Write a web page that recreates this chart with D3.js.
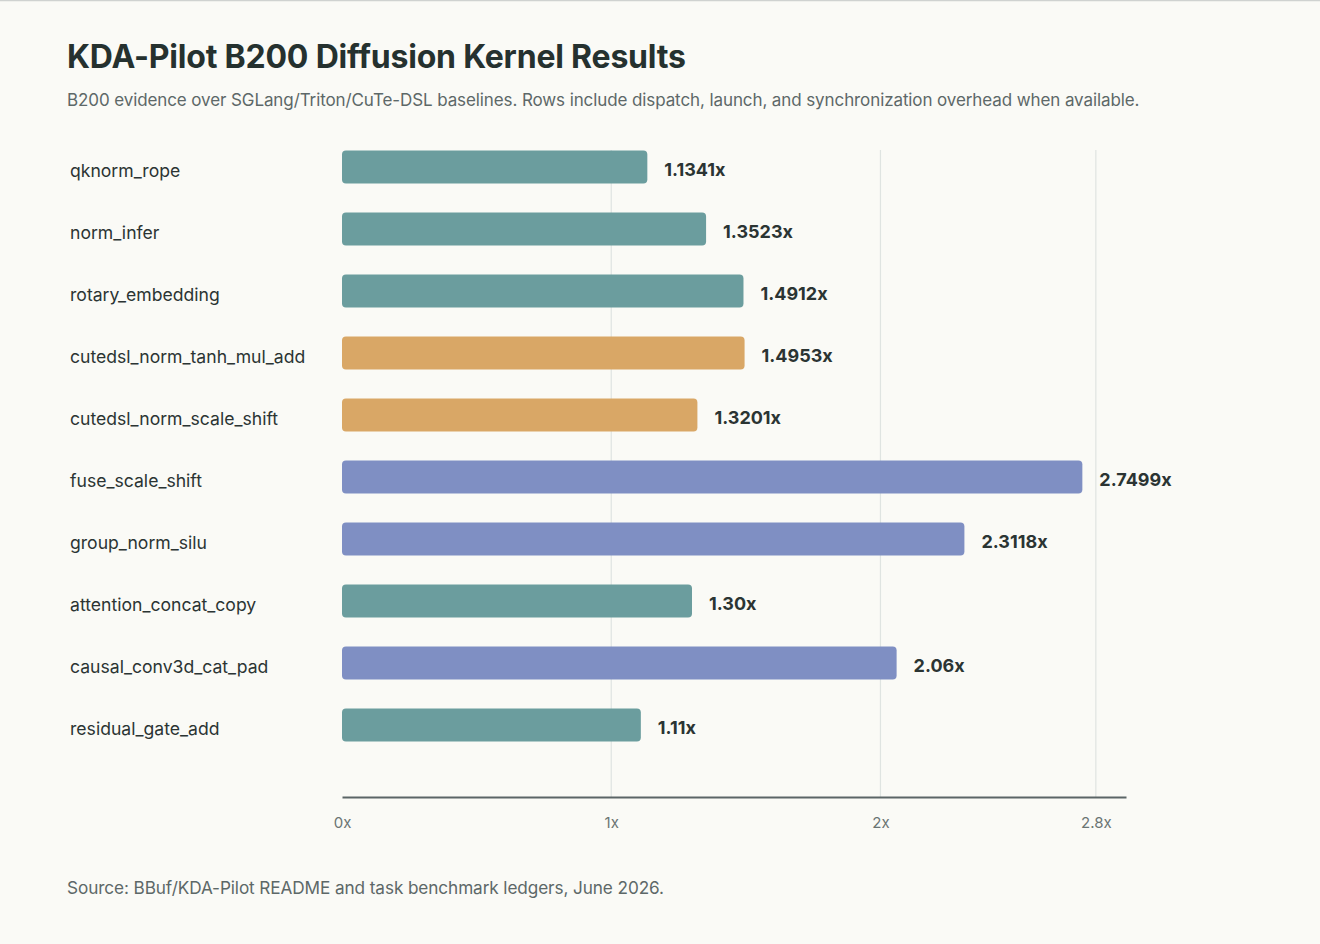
<!DOCTYPE html>
<html><head><meta charset="utf-8">
<script src="https://cdn.jsdelivr.net/npm/d3@7"></script>
<style>
html,body{margin:0;padding:0;background:#fafaf6;}
svg{display:block;}
</style></head>
<body>
<svg id="chart" width="1320" height="944"></svg>
<script>
const categories = ["qknorm_rope","norm_infer","rotary_embedding","cutedsl_norm_tanh_mul_add","cutedsl_norm_scale_shift","fuse_scale_shift","group_norm_silu","attention_concat_copy","causal_conv3d_cat_pad","residual_gate_add"];
const speedups = [1.1341,1.3523,1.4912,1.4953,1.3201,2.7499,2.3118,1.30,2.06,1.11];
const valueLabels = ["1.1341x","1.3523x","1.4912x","1.4953x","1.3201x","2.7499x","2.3118x","1.30x","2.06x","1.11x"];
const groups = ["triton","triton","triton","cutedsl","cutedsl","fused","fused","triton","fused","triton"];
const tickValues = [0,1,2,2.8];
const tickLabels = ["0x","1x","2x","2.8x"];
const title = "KDA-Pilot B200 Diffusion Kernel Results";
const subtitle = "B200 evidence over SGLang/Triton/CuTe-DSL baselines. Rows include dispatch, launch, and synchronization overhead when available.";
const source = "Source: BBuf/KDA-Pilot README and task benchmark ledgers, June 2026.";

const colors = {triton:"#6b9d9e", cutedsl:"#d9a766", fused:"#7f8fc3"};
const font = "Inter, 'Noto Sans', sans-serif";

const svg = d3.select("#chart");
svg.append("rect").attr("width",1320).attr("height",944).attr("fill","#fafaf6");
svg.append("line").attr("x1",0).attr("x2",1320).attr("y1",0.5).attr("y2",0.5).attr("stroke","#cfd2d0").attr("stroke-width",1.5);

svg.append("text").attr("x",67).attr("y",68).text(title)
  .attr("font-family",font).attr("font-weight",700).attr("font-size",32).attr("fill","#25312f").attr("letter-spacing","-0.2");
svg.append("text").attr("x",67).attr("y",106).text(subtitle)
  .attr("font-family",font).attr("font-size",17).attr("fill","#5d6868").attr("letter-spacing","-0.1");

const x = d3.scaleLinear().domain([0, 2.8*1.04]).range([342, 1126]);
const y = d3.scaleBand().domain(categories).range([136, 756]).paddingInner(0.468).paddingOuter(0.234);

const gridTop = 150, axisY = 797;
svg.append("g").selectAll("line").data(tickValues.filter(d=>d>0)).join("line")
  .attr("x1",d=>x(d)).attr("x2",d=>x(d)).attr("y1",gridTop).attr("y2",axisY)
  .attr("stroke","#dfe4e1").attr("stroke-width",1.2);

const rows = categories.map((c,i)=>({c, v:speedups[i], label:valueLabels[i], g:groups[i]}));

svg.append("g").selectAll("rect").data(rows).join("rect")
  .attr("x",x(0)).attr("y",d=>y(d.c)).attr("width",d=>x(d.v)-x(0)).attr("height",y.bandwidth())
  .attr("rx",4).attr("fill",d=>colors[d.g]);

svg.append("g").selectAll("text").data(rows).join("text")
  .attr("x",70).attr("y",d=>y(d.c)+y.bandwidth()/2+4).attr("dy","0.35em").text(d=>d.c)
  .attr("font-family",font).attr("font-size",17.6).attr("fill","#2b3433");

svg.append("g").selectAll("text").data(rows).join("text")
  .attr("x",d=>x(d.v)+17).attr("y",d=>y(d.c)+y.bandwidth()/2+3).attr("dy","0.35em").text(d=>d.label)
  .attr("font-family",font).attr("font-weight",700).attr("font-size",18).attr("fill","#2b3433");

const axis = d3.axisBottom(x).tickValues(tickValues).tickFormat((d,i)=>tickLabels[i]).tickSize(0).tickPadding(20);
const ag = svg.append("g").attr("transform",`translate(0,${axisY})`).call(axis);
ag.select(".domain").attr("stroke","#5b6566").attr("stroke-width",2);
ag.selectAll("text").attr("font-family",font).attr("font-size",15).attr("fill","#6a7473");

svg.append("text").attr("x",67).attr("y",894).text(source)
  .attr("font-family",font).attr("font-size",17.2).attr("fill","#5d6868").attr("letter-spacing","-0.1");
</script>
</body></html>
